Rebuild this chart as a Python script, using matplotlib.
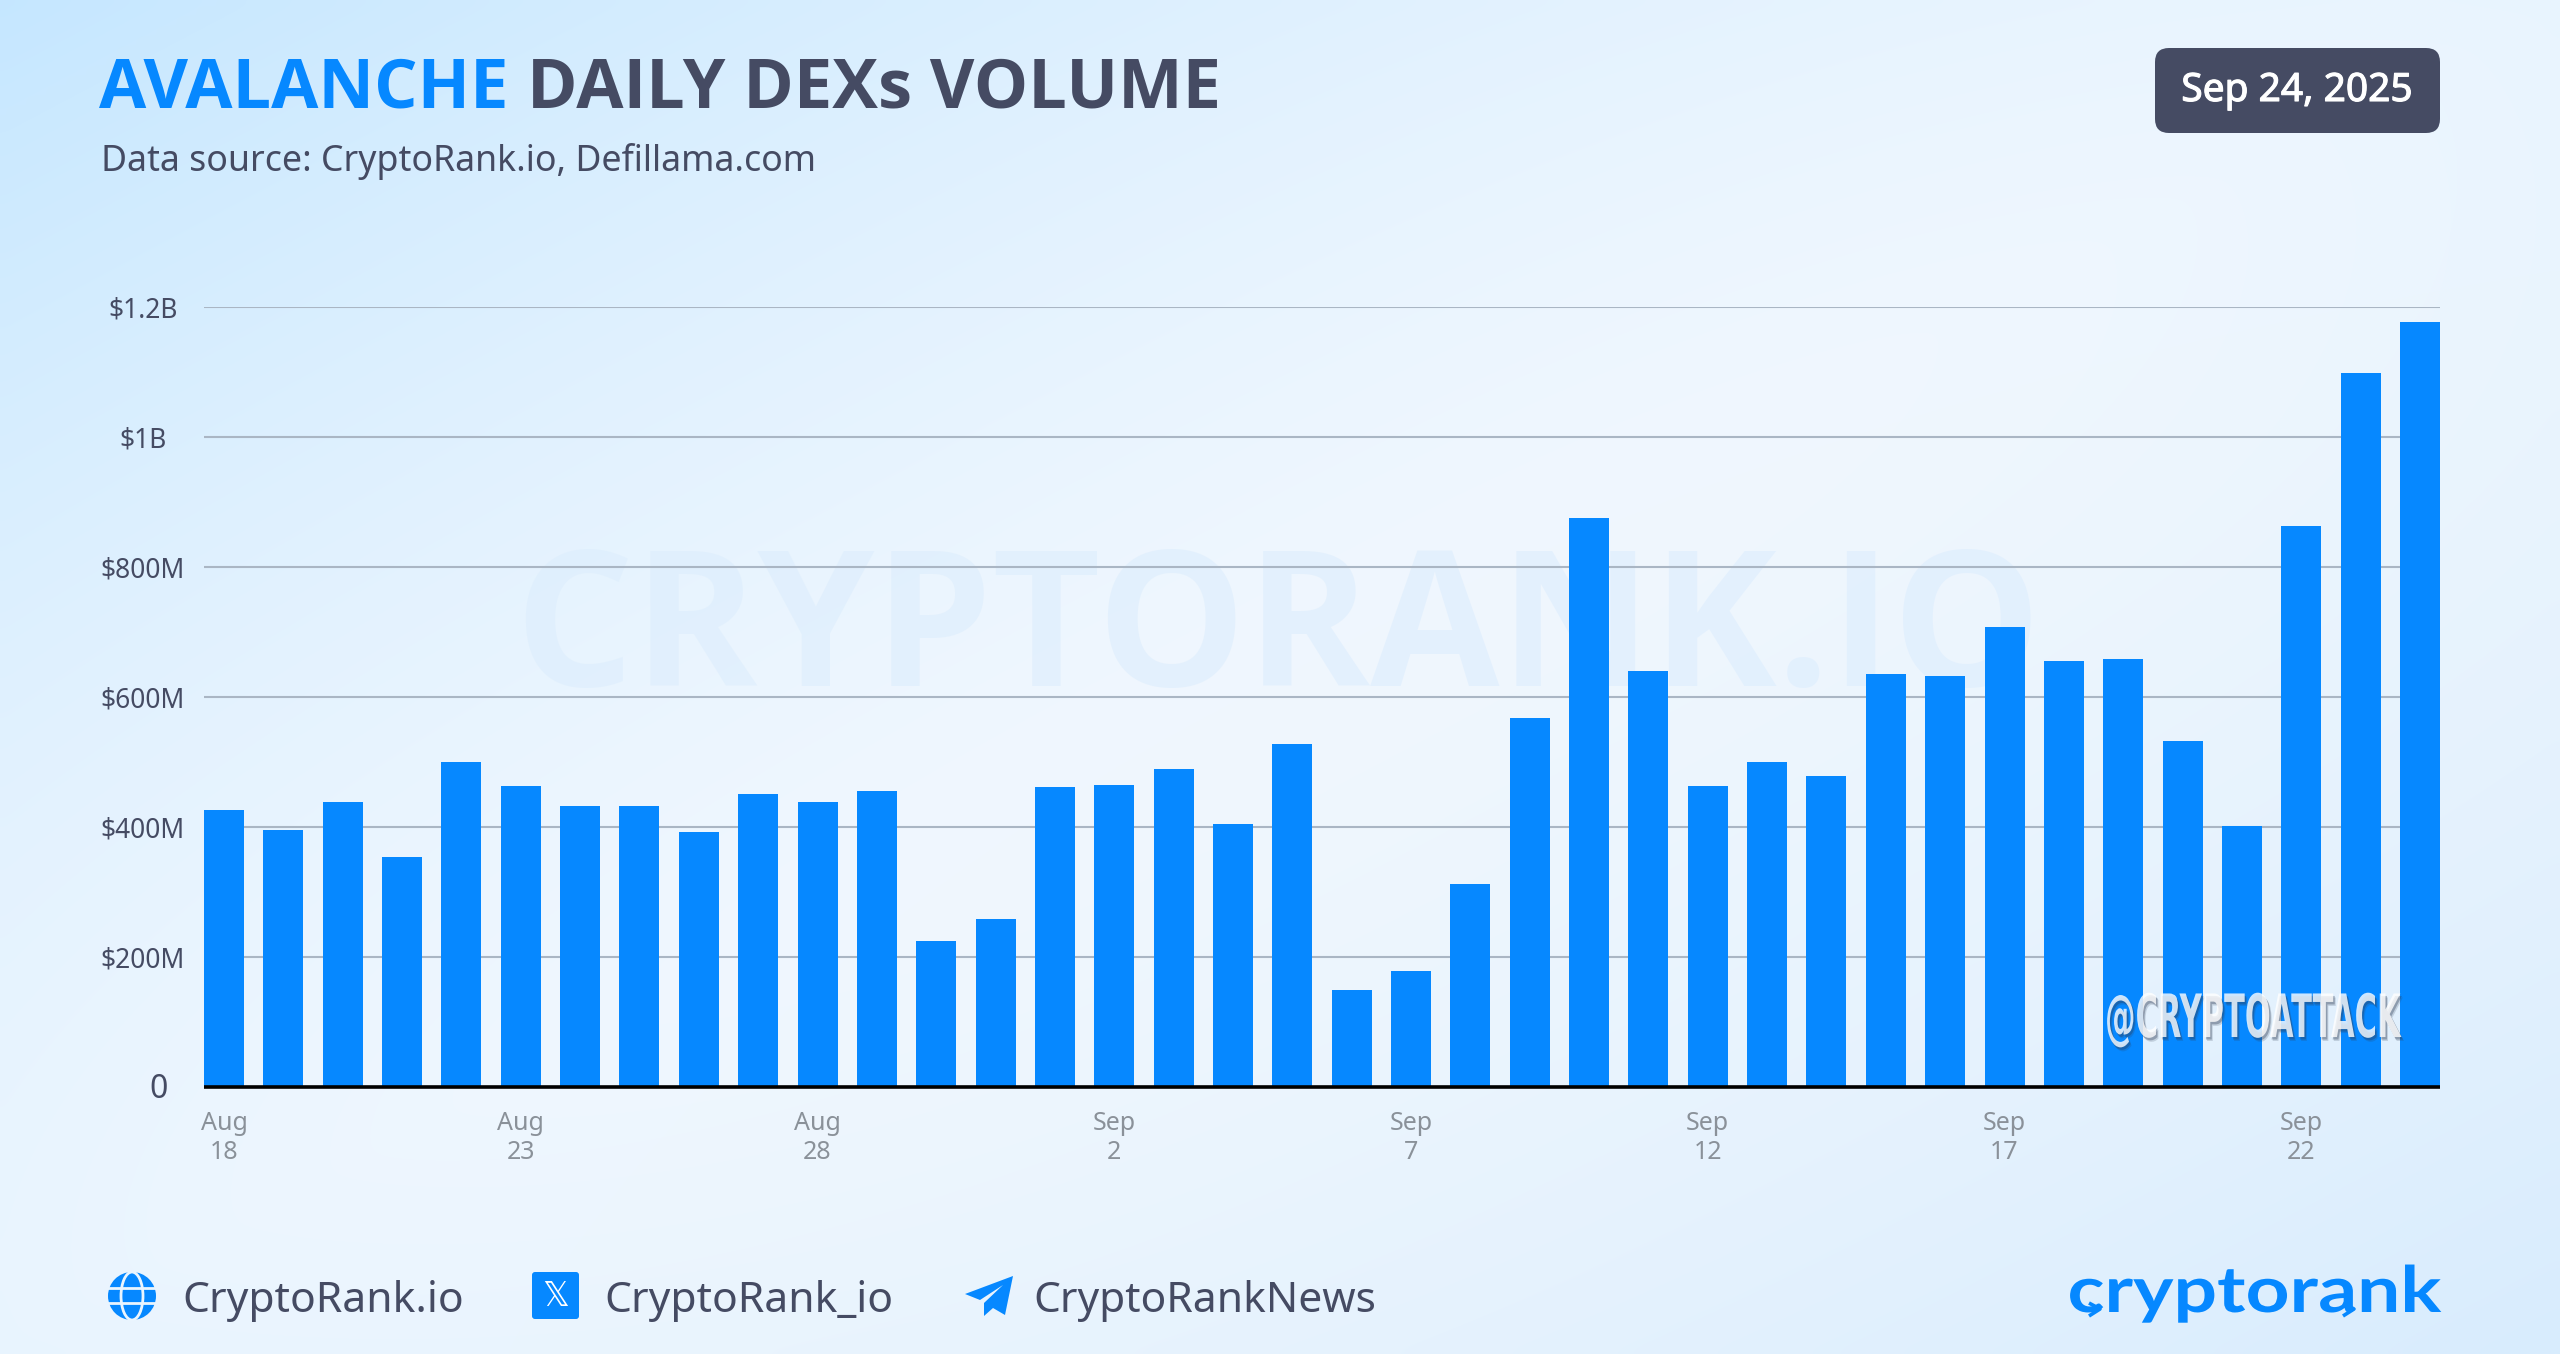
import numpy as np
import matplotlib
matplotlib.use('Agg')
import matplotlib.pyplot as plt
from matplotlib.colors import to_rgb
from matplotlib.patches import FancyBboxPatch, Circle, Polygon, Ellipse
from matplotlib.transforms import Affine2D
import matplotlib.patheffects as pe

plt.rcParams['font.family'] = ['Noto Sans', 'DejaVu Sans']

# daily volume in $M, Aug 18 - Sep 24
volume = [426, 396, 439, 354, 500, 463, 433, 433, 393, 451, 438, 456, 224,
          258, 461, 465, 490, 405, 528, 149, 178, 312, 568, 876, 640, 463,
          500, 478, 636, 632, 708, 655, 658, 533, 401, 863, 1098, 1177]
x_ticks = [0, 5, 10, 15, 20, 25, 30, 35]
x_labels = ['Aug\n18', 'Aug\n23', 'Aug\n28', 'Sep\n2', 'Sep\n7', 'Sep\n12', 'Sep\n17', 'Sep\n22']
y_ticks = [0, 200, 400, 600, 800, 1000, 1200]
y_labels = ['', '$200M', '$400M', '$600M', '$800M', '$1B', '$1.2B']

BLUE = '#0688ff'
DARK = '#454b63'
W, H = 2560, 1354


class Squeeze(pe.AbstractPathEffect):
    # scale glyphs sideways around a pixel x, no condensed/wide fonts installed
    def __init__(self, sx, cx, offset=(0, 0), color=None, alpha=None):
        super().__init__(offset)
        self.sx, self.cx, self.color, self.alpha = sx, cx, color, alpha

    def draw_path(self, renderer, gc, tpath, affine, rgbFace=None):
        aff = Affine2D(affine.get_matrix()).translate(-self.cx, 0).scale(self.sx, 1)
        aff = aff.translate(self.cx + self._offset[0], self._offset[1])
        gc0 = renderer.new_gc()
        gc0.copy_properties(gc)
        if self.alpha is not None:
            gc0.set_alpha(self.alpha)
        face = to_rgb(self.color) if self.color is not None else rgbFace
        renderer.draw_path(gc0, tpath, aff, face)
        gc0.restore()


fig = plt.figure(figsize=(W / 100, H / 100), dpi=100)

# background + everything placed in pixels
bg = fig.add_axes([0, 0, 1, 1], zorder=0)
bg.set_xlim(0, W)
bg.set_ylim(H, 0)
bg.axis('off')

gx, gy = np.meshgrid(np.linspace(0, 1, 256), np.linspace(0, 1, 136))
d = gx + gy - 1.0
centre = np.array([240, 247, 254]) / 255
tl = np.array([203, 233, 255]) / 255
br = np.array([216, 236, 253]) / 255
t_tl = np.clip(-d, 0, 1)[..., None] ** 1.4
t_br = np.clip(d, 0, 1)[..., None] ** 1.4
side = np.abs(gx - gy)[..., None] ** 3 * 0.2
img = centre + (tl - centre) * t_tl * 1.15 + (br - centre) * t_br + (tl - centre) * side
bg.imshow(np.clip(img, 0, 1), extent=(0, W, H, 0), aspect='auto', interpolation='bicubic')

# title
bg.text(99, 108, 'AVALANCHE', color=BLUE, fontsize=49.3, fontweight='bold', va='baseline',
        family='Open Sans')
bg.text(527, 108, 'DAILY DEXs VOLUME', color=DARK, fontsize=49.3, fontweight='bold', va='baseline',
        family='Open Sans')
bg.text(101, 171, 'Data source: CryptoRank.io, Defillama.com', color=DARK, fontsize=25.7, va='baseline')

# date badge
bg.add_patch(FancyBboxPatch((2169, 62), 257, 57, boxstyle='round,pad=14,rounding_size=14',
                            fc=DARK, ec='none'))
bg.text(2297, 91, 'Sep 24, 2025', color='white', fontsize=28, ha='center', va='center',
        path_effects=[pe.withStroke(linewidth=0.8, foreground='white')])

# watermark
bg.text(1278, 686, 'CRYPTORANK.IO', color='#dcedfd', alpha=0.6, fontsize=135,
        fontweight='bold', family='Open Sans', ha='center', va='baseline')

# footer links
bg.add_patch(Circle((132, 1296), 24, fc=BLUE, ec='none'))
bg.add_patch(Ellipse((132, 1296), 22, 48, fc='none', ec='#eaf5fe', lw=2))
bg.plot([108, 156], [1288, 1288], color='#eaf5fe', lw=2)
bg.plot([108, 156], [1303, 1303], color='#eaf5fe', lw=2)
bg.text(182, 1312, 'CryptoRank.io', color=DARK, fontsize=30.7, va='baseline')

bg.add_patch(FancyBboxPatch((535, 1275), 41, 41, boxstyle='round,pad=3,rounding_size=3',
                            fc=BLUE, ec='none'))
bg.text(555.5, 1296, '\U0001D54F', color='white', fontsize=24, ha='center', va='center',
        family='DejaVu Sans')
bg.text(604, 1312, 'CryptoRank_io', color=DARK, fontsize=30.7, va='baseline')

bg.add_patch(Polygon([(1013, 1276), (965, 1294), (980, 1300), (1003, 1285), (984, 1303),
                      (984, 1316), (993, 1308), (1005, 1315)], closed=True, fc=BLUE, ec='none'))
bg.text(1033, 1312, 'CryptoRankNews', color=DARK, fontsize=30.6, va='baseline')

# logo
bg.text(2441, 1312, 'cryptorank', color=BLUE, fontsize=46, fontweight='bold',
        family='Lato', ha='right', va='baseline', path_effects=[Squeeze(1.2, 2441)])
for cx in (2089, 2343):
    bg.plot([cx, cx + 11, cx], [1303, 1309, 1316], color=BLUE, lw=2.6, solid_capstyle='butt')

# chart
ax = fig.add_axes([204 / W, 1 - 1087 / H, (2440 - 204) / W, 780 / H], zorder=1)
ax.patch.set_alpha(0)
x = np.arange(len(volume))
bar_w = 0.674
ax.bar(x, volume, width=bar_w, color=BLUE, zorder=3)
ax.set_xlim(-bar_w / 2, len(volume) - 1 + bar_w / 2)
ax.set_ylim(0, 1200)

for s in ['top', 'left', 'right']:
    ax.spines[s].set_visible(False)
ax.spines['bottom'].set_color('black')
ax.spines['bottom'].set_linewidth(2.6)
ax.spines['bottom'].set_zorder(4)
ax.spines['bottom'].set_capstyle('butt')

ax.set_yticks(y_ticks)
ax.set_yticklabels(y_labels, fontsize=19, color=DARK, ha='center')
ax.tick_params(axis='y', length=0, pad=44)
ax.yaxis.grid(True, color='#aab6c4', lw=1.5, zorder=1)
ax.set_axisbelow(True)
ax.annotate('0', xy=(0, 0), xycoords=ax.get_yaxis_transform(), xytext=(-33, -1.5),
            textcoords='offset points', fontsize=23, color=DARK, ha='center', va='center',
            annotation_clip=False)

ax.set_xticks(x_ticks)
ax.set_xticklabels(x_labels, fontsize=18, color='#8a9199', linespacing=1.22)
ax.tick_params(axis='x', length=0, pad=17)

# channel stamp sitting on the bars
stamp_x = 2253
fig.text(stamp_x / W, 1 - 1037 / H, '@CRYPTOATTACK', color='white', alpha=0.8, fontsize=43,
         family='DejaVu Sans', fontweight='bold', ha='center', va='baseline', zorder=5,
         path_effects=[Squeeze(0.51, stamp_x, offset=(2.5, -4), color='#2f3d55', alpha=0.18),
                       Squeeze(0.51, stamp_x, offset=(1.5, -2.5), color='#2f3d55', alpha=0.35),
                       Squeeze(0.51, stamp_x)])

fig.savefig('out.png', dpi=100)
